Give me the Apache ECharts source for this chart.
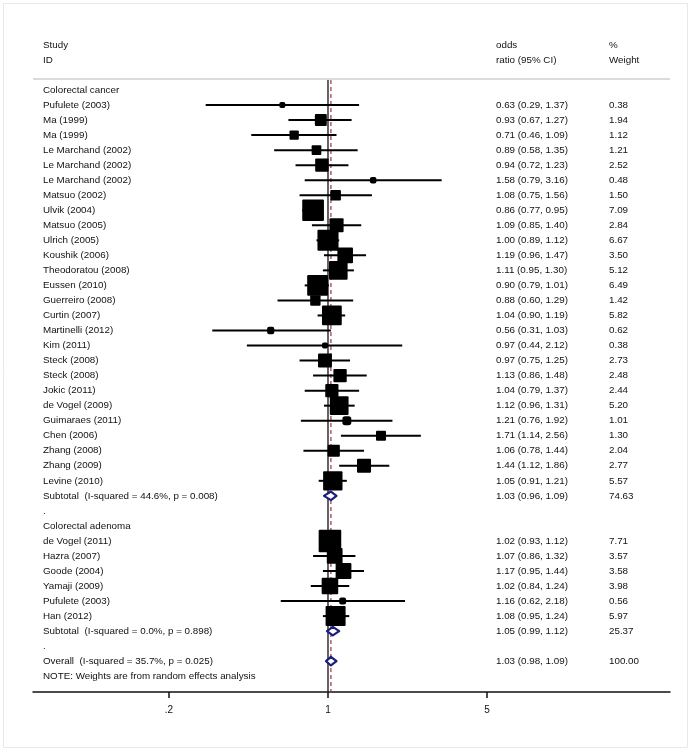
<!DOCTYPE html>
<html><head><meta charset="utf-8">
<script src="https://cdn.jsdelivr.net/npm/echarts@6/dist/echarts.min.js"></script>
<style>html,body{margin:0;padding:0;background:#fff}#c{width:697px;height:752px}</style>
</head><body><div id="c"></div>
<script>
// ---------- data ----------
const cancerStudies = ['Pufulete (2003)','Ma (1999)','Ma (1999)','Le Marchand (2002)','Le Marchand (2002)','Le Marchand (2002)','Matsuo (2002)','Ulvik (2004)','Matsuo (2005)','Ulrich (2005)','Koushik (2006)','Theodoratou (2008)','Eussen (2010)','Guerreiro (2008)','Curtin (2007)','Martinelli (2012)','Kim (2011)','Steck (2008)','Steck (2008)','Jokic (2011)','de Vogel (2009)','Guimaraes (2011)','Chen (2006)','Zhang (2008)','Zhang (2009)','Levine (2010)'];
const cancerOR = [0.63,0.93,0.71,0.89,0.94,1.58,1.08,0.86,1.09,1.00,1.19,1.11,0.90,0.88,1.04,0.56,0.97,0.97,1.13,1.04,1.12,1.21,1.71,1.06,1.44,1.05];
const cancerLo = [0.29,0.67,0.46,0.58,0.72,0.79,0.75,0.77,0.85,0.89,0.96,0.95,0.79,0.60,0.90,0.31,0.44,0.75,0.86,0.79,0.96,0.76,1.14,0.78,1.12,0.91];
const cancerHi = [1.37,1.27,1.09,1.35,1.23,3.16,1.56,0.95,1.40,1.12,1.47,1.30,1.01,1.29,1.19,1.03,2.12,1.25,1.48,1.37,1.31,1.92,2.56,1.44,1.86,1.21];
const cancerWeight = [0.38,1.94,1.12,1.21,2.52,0.48,1.50,7.09,2.84,6.67,3.50,5.12,6.49,1.42,5.82,0.62,0.38,2.73,2.48,2.44,5.20,1.01,1.30,2.04,2.77,5.57];
const cancerSubtotal = {label:'Subtotal  (I-squared = 44.6%, p = 0.008)', or:1.03, lo:0.96, hi:1.09, w:74.63};

const adenomaStudies = ['de Vogel (2011)','Hazra (2007)','Goode (2004)','Yamaji (2009)','Pufulete (2003)','Han (2012)'];
const adenomaOR = [1.02,1.07,1.17,1.02,1.16,1.08];
const adenomaLo = [0.93,0.86,0.95,0.84,0.62,0.95];
const adenomaHi = [1.12,1.32,1.44,1.24,2.18,1.24];
const adenomaWeight = [7.71,3.57,3.58,3.98,0.56,5.97];
const adenomaSubtotal = {label:'Subtotal  (I-squared = 0.0%, p = 0.898)', or:1.05, lo:0.99, hi:1.12, w:25.37};

const overall = {label:'Overall  (I-squared = 35.7%, p = 0.025)', or:1.03, lo:0.98, hi:1.09, w:100.00};

const groupNames = ['Colorectal cancer','Colorectal adenoma'];
const headerStudy = ['Study','ID'];
const headerOR = ['odds','ratio (95% CI)'];
const headerW = ['%','Weight'];
const noteText = 'NOTE: Weights are from random effects analysis';
const xTickValues = [0.2, 1, 5];
const xTickLabels = ['.2', '1', '5'];

// ---------- build rows ----------
const studyPts = [];   // [or, row, lo, hi, w]
const diamonds = [];   // [or, row, lo, hi]
const texts = [];      // {row, a, b, c}
function fmt(o,l,h){return o.toFixed(2)+' ('+l.toFixed(2)+', '+h.toFixed(2)+')';}
let row = 0;
texts.push({row:-3, a:headerStudy[0], b:headerOR[0], c:headerW[0]});
texts.push({row:-2, a:headerStudy[1], b:headerOR[1], c:headerW[1]});
function addGroup(name, st, or, lo, hi, w, sub){
  texts.push({row:row, a:name, b:'', c:''}); row++;
  for (let i=0;i<st.length;i++){
    studyPts.push([or[i], row, lo[i], hi[i], w[i]]);
    texts.push({row:row, a:st[i], b:fmt(or[i],lo[i],hi[i]), c:w[i].toFixed(2)});
    row++;
  }
  diamonds.push([sub.or,row,sub.lo,sub.hi]);
  texts.push({row:row, a:sub.label, b:fmt(sub.or,sub.lo,sub.hi), c:sub.w.toFixed(2)}); row++;
  texts.push({row:row, a:'.', b:'', c:''}); row++;
}
addGroup(groupNames[0], cancerStudies, cancerOR, cancerLo, cancerHi, cancerWeight, cancerSubtotal);
addGroup(groupNames[1], adenomaStudies, adenomaOR, adenomaLo, adenomaHi, adenomaWeight, adenomaSubtotal);
diamonds.push([overall.or,row,overall.lo,overall.hi]);
texts.push({row:row, a:overall.label, b:fmt(overall.or,overall.lo,overall.hi), c:overall.w.toFixed(2)}); row++;
texts.push({row:row, a:noteText, b:'', c:''});

const FONT = '"Liberation Sans", Arial, sans-serif';
const TXT = '#111';
const colX = [43, 496, 609];

const chart = echarts.init(document.getElementById('c'), null, {renderer:'canvas'});
chart.setOption({
  animation:false,
  backgroundColor:'#fff',
  grid:{left:33, right:27, top:79, bottom:60, containLabel:false},
  xAxis:{
    type:'log', logBase:10, min:0.0505, max:31.87, position:'bottom',
    axisLine:{show:true, onZero:false, lineStyle:{color:'#111', width:1.5}},
    axisTick:{show:true, inside:false, customValues:xTickValues, length:6, lineStyle:{color:'#111', width:1.5}},
    axisLabel:{show:true, customValues:xTickValues, margin:13, color:TXT, fontFamily:FONT, fontSize:10,
      formatter:function(v){let best=0;for(let i=0;i<xTickValues.length;i++){if(Math.abs(Math.log(v)-Math.log(xTickValues[i]))<Math.abs(Math.log(v)-Math.log(xTickValues[best])))best=i;}return xTickLabels[best];}},
    splitLine:{show:false}, minorTick:{show:false}, minorSplitLine:{show:false}
  },
  yAxis:{type:'value', inverse:true, min:-0.732, max:40.05, show:false, splitLine:{show:false}},
  graphic:[
    {type:'rect', shape:{x:3.5,y:3.5,width:684,height:744}, style:{fill:null, stroke:'#e6e9ec', lineWidth:1}, silent:true},
    {type:'line', shape:{x1:33,y1:79,x2:670,y2:79}, style:{stroke:'#cfcfcf', lineWidth:1.5}, silent:true}
  ],
  series:[
    { // reference lines
      type:'custom', clip:false, silent:true,
      data:[[1, 0], [overall.or, 1]],
      encode:{x:0},
      renderItem:function(params, api){
        const cs = params.coordSys;
        const x = api.coord([api.value(0), 0])[0];
        const dashed = api.value(1) === 1;
        return {type:'line', shape:{x1:x, y1:cs.y+1, x2:x, y2:cs.y+cs.height},
          style: dashed ? {stroke:'#a3434f', lineWidth:1.3, lineDash:[4,3]} : {stroke:'#222', lineWidth:1.4}};
      }
    },
    { // studies
      type:'custom', clip:false, silent:true,
      data:studyPts,
      encode:{x:[0,2,3], y:1},
      renderItem:function(params, api){
        const r = api.value(1);
        const p = api.coord([api.value(0), r]);
        const pl = api.coord([api.value(2), r]);
        const ph = api.coord([api.value(3), r]);
        const s = 1.2 + 7.7*Math.sqrt(api.value(4));
        return {type:'group', children:[
          {type:'line', shape:{x1:pl[0],y1:p[1],x2:ph[0],y2:p[1]}, style:{stroke:'#000', lineWidth:2}},
          {type:'rect', shape:{x:p[0]-s/2, y:p[1]-s/2, width:s, height:s, r: s<9 ? s*0.3 : 1}, style:{fill:'#000'}}
        ]};
      }
    },
    { // diamonds
      type:'custom', clip:false, silent:true, z:5,
      data:diamonds,
      encode:{x:[0,2,3], y:1},
      renderItem:function(params, api){
        const r = api.value(1);
        const p = api.coord([api.value(0), r]);
        const pl = api.coord([api.value(2), r]);
        const ph = api.coord([api.value(3), r]);
        const h = 4.3;
        return {type:'polygon', shape:{points:[[pl[0],p[1]],[p[0],p[1]-h],[ph[0],p[1]],[p[0],p[1]+h]]},
          style:{fill:'#fff', stroke:'#1b1f7a', lineWidth:2.2, lineJoin:'round'}};
      }
    },
    { // text columns
      type:'custom', clip:false, silent:true,
      data:texts.map(t=>[1, t.row]),
      encode:{x:0, y:1},
      renderItem:function(params, api){
        const t = texts[params.dataIndex];
        const y = api.coord([1, api.value(1)])[1];
        const st = {fontFamily:FONT, fontSize:9.8, fill:TXT, textVerticalAlign:'middle', verticalAlign:'middle', align:'left'};
        const ch = [];
        if (t.a) ch.push({type:'text', x:colX[0], y:y, style:Object.assign({text:t.a}, st)});
        if (t.b) ch.push({type:'text', x:colX[1], y:y, style:Object.assign({text:t.b}, st)});
        if (t.c) ch.push({type:'text', x:colX[2], y:y, style:Object.assign({text:t.c}, st)});
        return {type:'group', children:ch};
      }
    }
  ]
});
</script>
</body></html>
